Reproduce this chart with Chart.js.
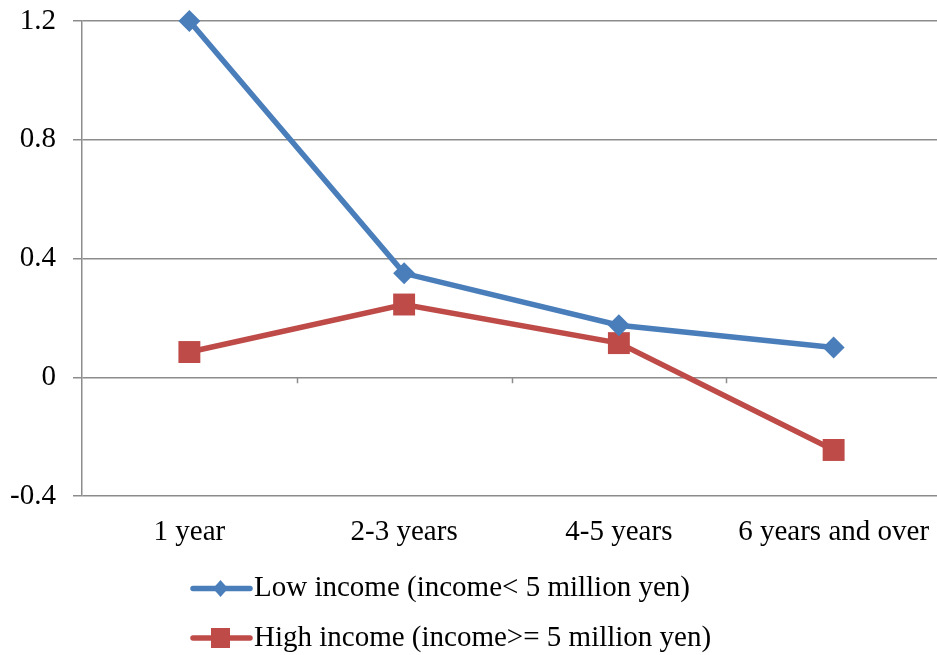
<!DOCTYPE html>
<html>
<head>
<meta charset="utf-8">
<script src="https://cdn.jsdelivr.net/npm/chart.js@4"></script>
<style>
  html, body { margin: 0; padding: 0; background: #ffffff; overflow: hidden; }
  #wrap { width: 937px; height: 655px; overflow: hidden; position: relative; }
  canvas { display: block; }
</style>
</head>
<body>
<div id="wrap"><canvas id="chart" width="941" height="655"></canvas></div>
<script>
// Tenure categories along the horizontal axis
const categories = ['1 year', '2-3 years', '4-5 years', '6 years and over'];

// Series values
const lowIncome = [1.2, 0.35, 0.175, 0.1];
const highIncome = [0.085, 0.245, 0.115, -0.245];

const seriesNames = [
  'Low income (income< 5 million yen)',
  'High income (income>= 5 million yen)'
];

// Vertical axis range and step
const yMin = -0.4;
const yMax = 1.2;
const yStep = 0.4;

const FONT = '"Liberation Serif", "Times New Roman", serif';
const FONT_SIZE = 29;
const GRID = '#8c8c8c';
const BLUE = '#4a7ebb';
const RED = '#be4b48';

// Small tick marks between categories on the zero line
const zeroTicks = {
  id: 'zeroTicks',
  afterDatasetsDraw(chart) {
    const xs = chart.scales.x, ys = chart.scales.y;
    const y0 = ys.getPixelForValue(0);
    const ctx = chart.ctx;
    ctx.save();
    ctx.strokeStyle = GRID;
    ctx.lineWidth = 1.5;
    for (let i = 1; i < categories.length; i++) {
      const x = Math.round((xs.getPixelForValue(i - 1) + xs.getPixelForValue(i)) / 2) + 0.5;
      ctx.beginPath();
      ctx.moveTo(x, y0);
      ctx.lineTo(x, y0 + 6);
      ctx.stroke();
    }
    ctx.restore();
  }
};

// Legend stacked vertically beneath the axis labels
const stackedLegend = {
  id: 'stackedLegend',
  afterDraw(chart) {
    const ctx = chart.ctx;
    const x0 = 190, lineLen = 64, rowY = [588.5, 638];
    ctx.save();
    chart.data.datasets.forEach((ds, i) => {
      const y = rowY[i];
      ctx.strokeStyle = ds.borderColor;
      ctx.lineWidth = 5.5;
      ctx.lineCap = 'round';
      ctx.beginPath();
      ctx.moveTo(x0 + 3, y);
      ctx.lineTo(x0 + lineLen - 4, y);
      ctx.stroke();
      ctx.fillStyle = ds.backgroundColor;
      const cx = x0 + 30.5;
      if (ds.pointStyle === 'rectRot') {
        ctx.beginPath();
        ctx.moveTo(cx, y - 8.5);
        ctx.lineTo(cx + 7.5, y);
        ctx.lineTo(cx, y + 8.5);
        ctx.lineTo(cx - 7.5, y);
        ctx.closePath();
        ctx.fill();
      } else {
        ctx.fillRect(cx - 9.5, y - 10, 19, 20);
      }
      ctx.fillStyle = '#000000';
      ctx.font = FONT_SIZE + 'px ' + FONT;
      ctx.textBaseline = 'middle';
      ctx.textAlign = 'left';
      ctx.fillText(ds.label, x0 + lineLen, y);
    });
    ctx.restore();
  }
};

new Chart(document.getElementById('chart'), {
  type: 'line',
  data: {
    labels: categories,
    datasets: [
      {
        label: seriesNames[0],
        data: lowIncome,
        borderColor: BLUE,
        backgroundColor: BLUE,
        borderWidth: 5.5,
        pointStyle: 'rectRot',
        pointRadius: 11,
        pointBorderWidth: 0,
        pointBackgroundColor: BLUE,
        tension: 0,
        clip: false
      },
      {
        label: seriesNames[1],
        data: highIncome,
        borderColor: RED,
        backgroundColor: RED,
        borderWidth: 5.5,
        pointStyle: 'rect',
        pointRadius: 15.5,
        pointBorderWidth: 0,
        pointBackgroundColor: RED,
        tension: 0,
        clip: false
      }
    ]
  },
  options: {
    responsive: false,
    animation: false,
    devicePixelRatio: 1,
    layout: { autoPadding: false, padding: { top: 21, right: 0, bottom: 0, left: 0 } },
    plugins: {
      legend: { display: false },
      tooltip: { enabled: false }
    },
    scales: {
      x: {
        offset: true,
        grid: { display: false, drawTicks: false },
        border: { display: false },
        ticks: {
          color: '#000000',
          font: { family: FONT, size: FONT_SIZE },
          padding: 19,
          maxRotation: 0,
          autoSkip: false
        },
        afterFit(scale) {
          scale.height = 159;
          scale.paddingLeft = 0;
          scale.paddingRight = 0;
        }
      },
      y: {
        min: yMin,
        max: yMax,
        grid: { color: GRID, lineWidth: 1.5, tickLength: 9 },
        border: { color: GRID, width: 1.5 },
        ticks: {
          stepSize: yStep,
          color: '#000000',
          font: { family: FONT, size: FONT_SIZE },
          padding: 17,
          callback: v => Number(v.toFixed(1)).toString()
        },
        afterFit(scale) {
          scale.width = 82;
          scale.paddingTop = 0;
          scale.paddingBottom = 0;
        }
      }
    }
  },
  plugins: [zeroTicks, stackedLegend]
});
</script>
</body>
</html>
